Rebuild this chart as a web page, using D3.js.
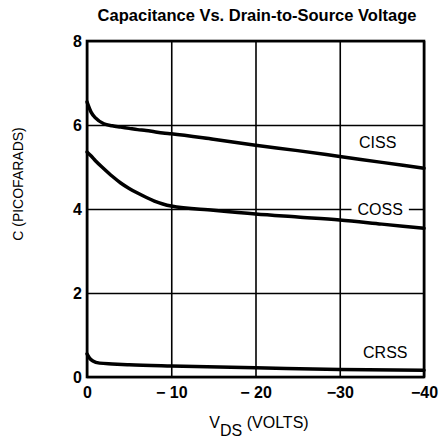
<!DOCTYPE html>
<html>
<head>
<meta charset="utf-8">
<script src="https://cdn.jsdelivr.net/npm/d3@7"></script>
<style>
  body { margin: 0; background: #fff; }
  text { font-family: "Liberation Sans", Arial, sans-serif; fill: #000; }
</style>
</head>
<body>
<div id="chart"></div>
<script>
// values
const vds  = [0, -0.5, -1, -2, -3, -4, -5, -6, -7, -8, -9, -10, -15, -20, -25, -30, -35, -40];
const ciss = [6.55, 6.3, 6.17, 6.03, 5.98, 5.95, 5.92, 5.89, 5.87, 5.84, 5.81, 5.79, 5.66, 5.52, 5.39, 5.25, 5.11, 4.97];
const coss = [5.36, 5.26, 5.15, 4.96, 4.78, 4.62, 4.49, 4.38, 4.28, 4.19, 4.12, 4.07, 3.97, 3.88, 3.81, 3.74, 3.64, 3.54];
const crssV = [0, -0.3, -0.7, -1.5, -3, -5, -10, -20, -30, -40];
const crss  = [0.55, 0.45, 0.38, 0.33, 0.31, 0.29, 0.26, 0.22, 0.18, 0.16];

const xTicks = [0, -10, -20, -30, -40];
const xTickLabels = ["0", "\u2212 10", "\u2212 20", "\u221230", "\u221240"];
const yTicks = [0, 2, 4, 6, 8];

const curveLabels = [
  { name: "CISS", v: -34.5, c: 5.6 },
  { name: "COSS", v: -34.8, c: 4.0 },
  { name: "CRSS", v: -35.4, c: 0.6 }
];

const width = 445, height = 443;
const margin = { top: 41, right: 21, bottom: 66, left: 87 };
const w = width - margin.left - margin.right;
const h = height - margin.top - margin.bottom;

const x = d3.scaleLinear().domain([0, -40]).range([0, w]);
const y = d3.scaleLinear().domain([0, 8]).range([h, 0]);

const svg = d3.select('#chart').append('svg')
  .attr('width', width)
  .attr('height', height);

svg.append('text')
  .attr('x', 257).attr('y', 21)
  .attr('text-anchor', 'middle')
  .style('font-size', '16.5px')
  .style('font-weight', 'bold')
  .text('Capacitance Vs. Drain-to-Source Voltage');

const g = svg.append('g')
  .attr('transform', `translate(${margin.left},${margin.top})`);

// grid via axes
const xAxis = g.append('g')
  .attr('transform', `translate(0,${h})`)
  .call(d3.axisBottom(x).tickValues(xTicks).tickSize(-h).tickPadding(6)
    .tickFormat((d, i) => xTickLabels[i]));

const yAxis = g.append('g')
  .call(d3.axisLeft(y).tickValues(yTicks).tickSize(-w).tickPadding(6));

[xAxis, yAxis].forEach(a => {
  a.select('.domain').remove();
  a.selectAll('line').attr('stroke', '#000').attr('stroke-width', 1.6);
  a.selectAll('text')
    .style('font-size', '16px')
    .style('font-weight', 'bold')
    .style('font-family', '"Liberation Sans", Arial, sans-serif');
});
xAxis.selectAll('text').attr('dy', '0.95em');
yAxis.selectAll('text').attr('dx', '1px');

// frame
g.append('rect')
  .attr('width', w).attr('height', h)
  .attr('fill', 'none').attr('stroke', '#000').attr('stroke-width', 2.6);

const line = d3.line()
  .x(d => x(d[0]))
  .y(d => y(d[1]))
  .curve(d3.curveMonotoneX);

[d3.zip(vds, ciss), d3.zip(vds, coss), d3.zip(crssV, crss)].forEach(s => {
  g.append('path')
    .datum(s)
    .attr('fill', 'none')
    .attr('stroke', '#000')
    .attr('stroke-width', 3.5)
    .attr('stroke-linecap', 'round')
    .attr('d', line);
});

// curve labels (COSS sits on the grid line with a white gap)
curveLabels.forEach(l => {
  const lg = g.append('g');
  const bg = lg.append('rect').attr('fill', '#fff');
  const t = lg.append('text')
    .attr('x', x(l.v)).attr('y', y(l.c))
    .attr('text-anchor', 'middle')
    .attr('dy', '0.36em')
    .style('font-size', '16px')
    .text(l.name);
  if (l.name === 'COSS') {
    const b = t.node().getBBox();
    bg.attr('x', b.x - 6).attr('y', b.y + 2)
      .attr('width', b.width + 12).attr('height', b.height - 4);
  } else {
    bg.remove();
  }
});

// axis titles
svg.append('text')
  .attr('transform', `translate(23,184) rotate(-90)`)
  .attr('text-anchor', 'middle')
  .style('font-size', '14px')
  .text('C (PICOFARADS)');

const xt = svg.append('text')
  .attr('x', 259).attr('y', 428)
  .attr('text-anchor', 'middle')
  .style('font-size', '16px');
xt.append('tspan').text('V');
xt.append('tspan').attr('dy', 8).text('DS');
xt.append('tspan').attr('dy', -8).text(' (VOLTS)');
</script>
</body>
</html>
